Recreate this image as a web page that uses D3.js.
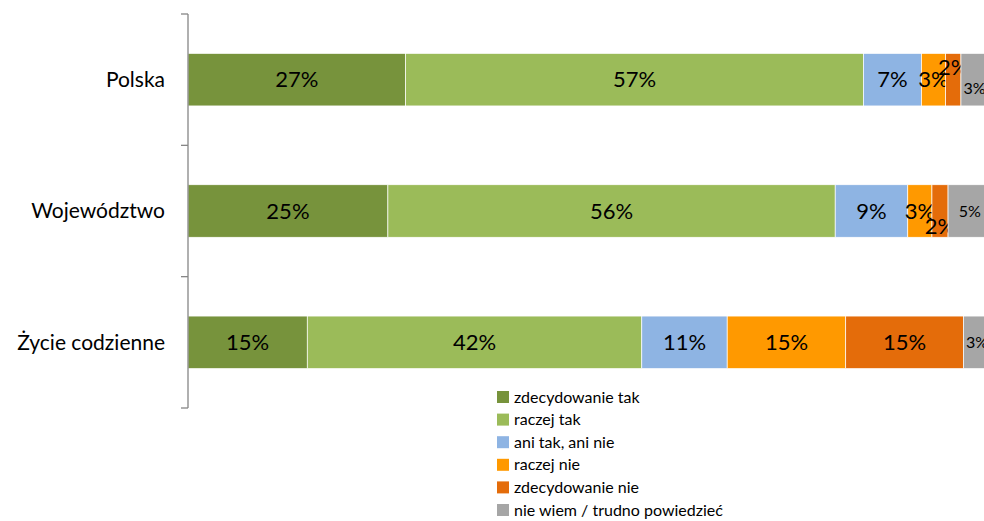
<!DOCTYPE html>
<meta charset="utf-8">
<title>Ocena - wykres</title>
<script src="https://d3js.org/d3.v7.min.js"></script>
<style>
  body { margin: 0; background: #fff; }
  svg text { font-family: Lato, "Open Sans", sans-serif; fill: #000; }
  .cat { font-size: 21px; text-anchor: end; }
  .val { text-anchor: middle; }
  .leg { font-size: 16px; }
</style>
<body>
<svg width="984" height="521"></svg>
<script>
  var categories = ["Polska", "Województwo", "Życie codzienne"];
  var seriesNames = ["zdecydowanie tak", "raczej tak", "ani tak, ani nie", "raczej nie", "zdecydowanie nie", "nie wiem / trudno powiedzieć"];
  var colors = ["#77933C", "#9BBB59", "#8EB4E3", "#FF9900", "#E46C0A", "#A6A6A6"];

  // values per category, in series order
  var polska = [27.0, 56.8, 7.2, 3.0, 1.9, 3.4];
  var wojewodztwo = [24.8, 55.5, 9.0, 3.0, 2.0, 5.4];
  var zycie = [14.8, 41.5, 10.6, 14.7, 14.6, 3.4];
  var values = [polska, wojewodztwo, zycie];

  // hand-placed labels (dy, font size) like in the original
  var labelTweak = {
    "0-4": { dy: -12 }, "0-5": { dy: 9, size: 16 },
    "1-4": { dy: 15 }, "1-5": { dy: 0, size: 16 },
    "2-5": { dy: 0, size: 16 }
  };

  var svg = d3.select("svg");
  var x = d3.scaleLinear().domain([0, 100]).range([188, 994]);
  var y = d3.scaleBand().domain(categories).range([14, 408]);
  var barH = y.bandwidth() * 0.4;

  values.forEach(function (row, ci) {
    var cum = 0;
    var g = svg.append("g");
    row.forEach(function (v, si) {
      var x0 = x(cum), x1 = x(cum + v);
      cum += v;
      var yc = y(categories[ci]) + y.bandwidth() / 2;
      g.append("rect")
        .attr("x", x0).attr("y", yc - barH / 2)
        .attr("width", x1 - x0).attr("height", barH)
        .attr("fill", colors[si])
        .attr("stroke", "#fff").attr("stroke-width", 0.7);
      var t = labelTweak[ci + "-" + si] || {};
      g.append("text").attr("class", "val")
        .attr("x", (x0 + x1) / 2)
        .attr("y", yc + (t.dy || 0))
        .attr("dy", "0.35em")
        .style("font-size", (t.size || 22) + "px")
        .text(Math.round(v) + "%");
    });
  });

  // vertical axis with outside ticks at band edges
  var axisColor = "#868686";
  svg.append("line").attr("x1", 188).attr("x2", 188)
    .attr("y1", y.range()[0]).attr("y2", y.range()[1])
    .attr("stroke", axisColor).attr("stroke-width", 1.3);
  var edges = categories.map(function (c) { return y(c); }).concat([y.range()[1]]);
  svg.selectAll(".tick").data(edges).enter().append("line")
    .attr("x1", 181).attr("x2", 188)
    .attr("y1", function (d) { return d; }).attr("y2", function (d) { return d; })
    .attr("stroke", axisColor).attr("stroke-width", 1.3);

  svg.selectAll(".cat").data(categories).enter().append("text")
    .attr("class", "cat")
    .attr("x", 165)
    .attr("y", function (d) { return y(d) + y.bandwidth() / 2; })
    .attr("dy", "0.35em")
    .text(function (d) { return d; });

  // legend
  var leg = svg.append("g").attr("transform", "translate(497,390)");
  seriesNames.forEach(function (name, i) {
    var row = leg.append("g").attr("transform", "translate(0," + (i * 22.6) + ")");
    row.append("rect").attr("width", 12).attr("height", 12).attr("y", 1).attr("fill", colors[i]);
    row.append("text").attr("class", "leg").attr("x", 17).attr("y", 7).attr("dy", "0.35em").text(name);
  });
</script>
</body>
